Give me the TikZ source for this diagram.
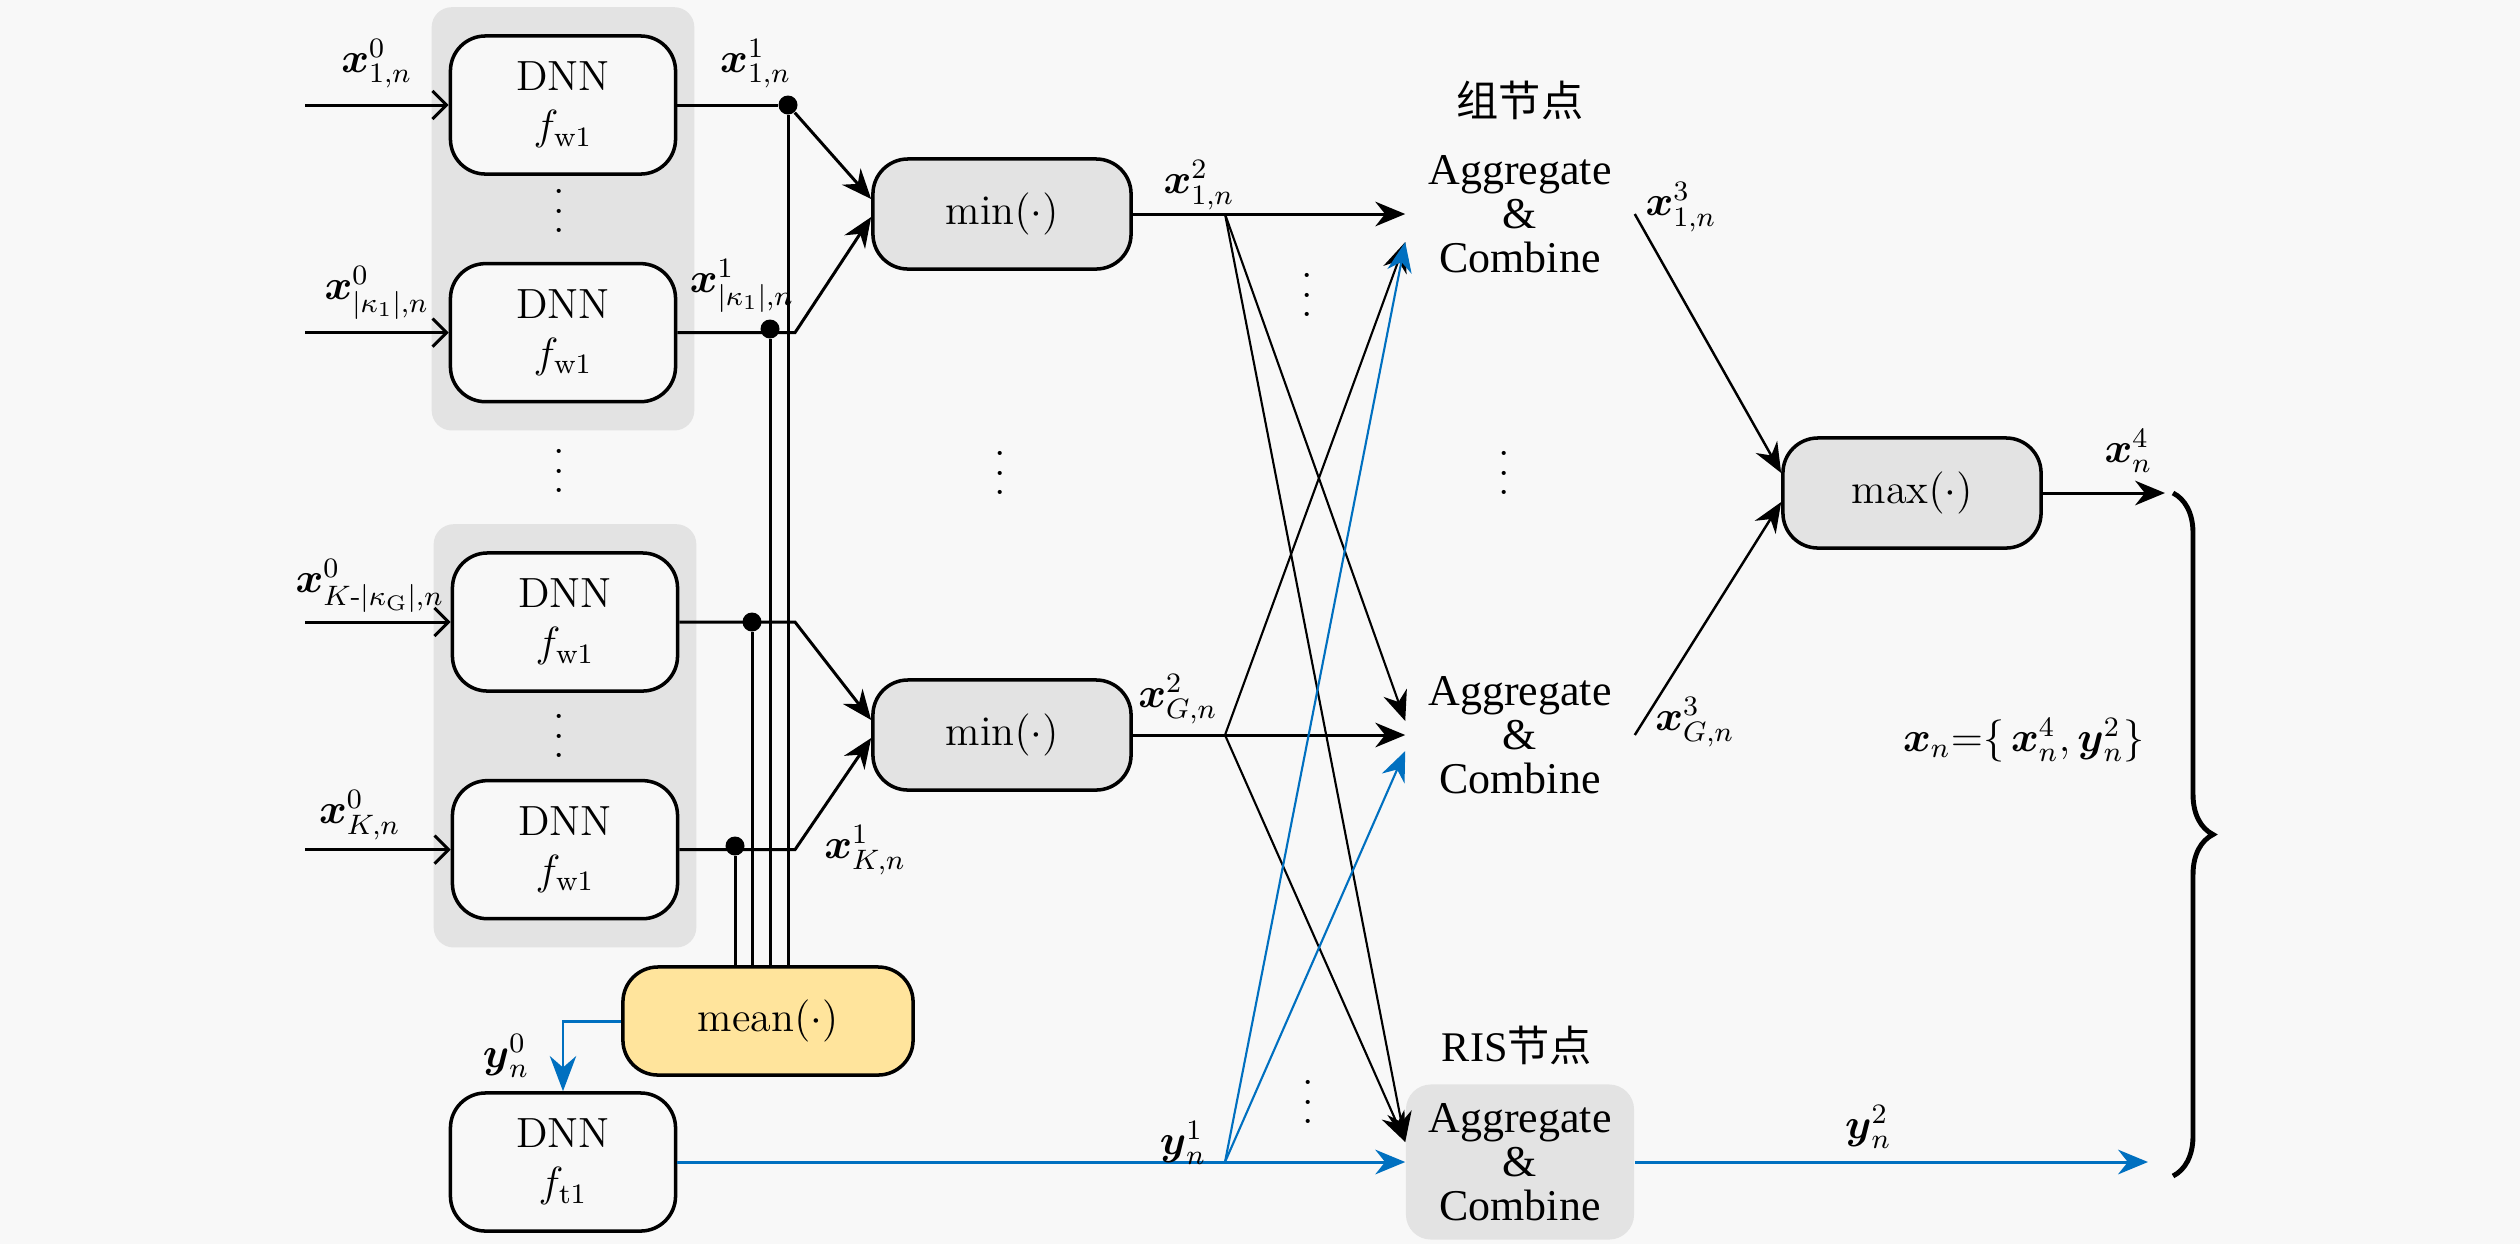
\documentclass[tikz,border=0pt]{standalone}
\usepackage{amsmath,amssymb}
\usepackage{fontspec}
\newfontfamily\cjk{Noto Sans CJK SC}
\newfontfamily\tnr{Liberation Serif}
\usepackage{tikz}
\usetikzlibrary{arrows.meta,positioning,fit,backgrounds,calc,decorations.pathreplacing}
\definecolor{bgGray}{HTML}{F8F8F8}
\definecolor{boxGray}{HTML}{E3E3E3}
\definecolor{meanYellow}{HTML}{FFE49C}
\definecolor{linkBlue}{HTML}{0070C0}
\newcommand{\bx}{\boldsymbol{x}}
\newcommand{\by}{\boldsymbol{y}}
\newcommand{\vdts}{\vbox{\baselineskip5.6pt\lineskiplimit0pt\hbox{.}\hbox{.}\hbox{.}}}

\begin{document}
\begin{tikzpicture}[
    x=0.01cm, y=-0.01cm,
    font=\large,
    dnn/.style={draw, rounded corners=0.35cm, line width=1pt, minimum width=2.25cm, minimum height=1.38cm, align=center, fill=bgGray},
    op/.style={draw, rounded corners=0.35cm, line width=1pt, minimum width=2.58cm, minimum height=1.1cm, fill=boxGray},
    agg/.style={minimum width=2.28cm, minimum height=1.55cm, align=center, inner sep=0pt, font=\tnr\fontsize{12.5}{12.5}\selectfont},
    dot/.style={circle, fill=black, minimum size=0.19cm, inner sep=0pt},
    vd/.style={inner sep=0pt},
    wire/.style={line width=0.85pt},
    inarrow/.style={wire, -{Straight Barb[length=4pt,width=8pt]}},
    arrow/.style={wire, -{Stealth[length=8.5pt,width=7pt]}},
    cross/.style={line width=0.6pt, -{Stealth[length=8.5pt,width=7pt]}},
    bluearrow/.style={arrow, linkBlue},
    bluecross/.style={cross, linkBlue}
]
    \useasboundingbox (0,0) rectangle (2520,1244);

    % columns
    \coordinate (ix) at (305,0);
    \coordinate (kx) at (795,0);
    \coordinate (fx) at (1225,0);

    % DNN blocks
    \node[dnn] (w1) at (563,105) {DNN\\$f_{\mathrm{w1}}$};
    \node[dnn, below=0.86cm of w1] (w2) {DNN\\$f_{\mathrm{w1}}$};
    \node[dnn] (w3) at (565,622) {DNN\\$f_{\mathrm{w1}}$};
    \node[dnn, below=0.86cm of w3] (w4) {DNN\\$f_{\mathrm{w1}}$};
    \node[dnn] (t1) at (563,1162) {DNN\\$f_{\mathrm{t1}}$};

    \node[vd] (v1) at (559,211) {\vdts};
    \node[vd] (v2) at (559,471) {\vdts};
    \node[vd] (v3) at (559,736) {\vdts};

    % pooling
    \node[op] (m1) at (1002,214) {$\min(\cdot)$};
    \node[op] (m2) at (1002,735) {$\min(\cdot)$};
    \node[op, fill=meanYellow, minimum width=2.9cm, minimum height=1.08cm] (mean) at (768,1021) {$\mathrm{mean}(\cdot)$};
    \node[vd] (v4) at (1000,473) {\vdts};

    \node[dot] (p1) at (788,105) {};
    \node[dot] (p2) at (770,329) {};
    \node[dot] (p3) at (752,622) {};
    \node[dot] (p4) at (735,846) {};

    % inputs
    \draw[inarrow] (w1.west -| ix) -- node[above=1pt] (l01) {$\bx^0_{1,n}$} (w1.west);
    \draw[inarrow] (w2.west -| ix) -- node[above=0pt] (l02) {$\bx^0_{|\kappa_1|,n}$} (w2.west);
    \draw[inarrow] (w3.west -| ix) -- node[above=-1pt, xshift=-0.08cm] (l03) {$\bx^0_{K\text{-}|\kappa_{\mathrm{G}}|,n}$} (w3.west);
    \draw[inarrow] (w4.west -| ix) -- node[above=-1pt, xshift=-0.18cm] (l04) {$\bx^0_{K,n}$} (w4.west);

    % to min
    \draw[wire] (w1.east) -- node[pos=0.78, above=1pt] (l11) {$\bx^1_{1,n}$} (p1);
    \draw[arrow] (p1) -- ([yshift=0.15cm]m1.west);
    \draw[arrow] (w2.east) -- node[pos=0.55, above=2pt] (l12) {$\bx^1_{|\kappa_1|,n}$} (w2.east -| kx) -- ([yshift=-0.03cm]m1.west);
    \draw[arrow] (w3.east) -- (w3.east -| kx) -- ([yshift=0.15cm]m2.west);
    \draw[arrow] (w4.east) -- (w4.east -| kx) -- ([yshift=-0.03cm]m2.west);
    \node[anchor=west] (l1K) at (812,850) {$\bx^1_{K,n}$};

    % to mean
    \draw[wire] (p1) -- (p1 |- mean.north);
    \draw[wire] (p2) -- (p2 |- mean.north);
    \draw[wire] (p3) -- (p3 |- mean.north);
    \draw[wire] (p4) -- (p4 |- mean.north);
    \draw[wire, linkBlue, -{Stealth[length=10pt,width=7.5pt]}] (mean.west) -| (t1.north);
    \node (l0y) at (506,1056) {$\by^0_n$};

    % aggregation nodes
    \node (grp) at (1520,100) {\cjk 组节点};
    \node[agg] (a1) at (1520,214) {Aggregate\\\&\\Combine};
    \node[agg] (a2) at (1520,735) {Aggregate\\\&\\Combine};
    \node[vd] (v5) at (1504,473) {\vdts};
    \node (ris) at (1517,1045) {{\tnr RIS}{\cjk 节点}};
    \node[agg, fill=boxGray, rounded corners=0.25cm] (a3) at (1520,1162) {Aggregate\\\&\\Combine};

    \coordinate (f1) at (m1.east -| fx);
    \coordinate (f2) at (m2.east -| fx);
    \coordinate (f3) at (t1.east -| fx);
    \node[vd] (v6) at (1307,295) {\vdts};
    \node[vd] (v7) at (1308,1102) {\vdts};

    \draw[arrow] (m1.east) -- (a1.west);
    \draw[arrow] (m2.east) -- (a2.west);
    \draw[bluearrow] (t1.east) -- (a3.west);
    \node (l21) at (1199,185) {$\bx^2_{1,n}$};
    \node (l2G) at (1178,699) {$\bx^2_{G,n}$};
    \node (l1y) at (1183,1143) {$\by^1_n$};

    \draw[cross] (f1) -- ([yshift=0.14cm]a2.west);
    \draw[cross] (f1) -- ([yshift=0.2cm]a3.west);
    \draw[cross] (f2) -- ([yshift=-0.28cm]a1.west);
    \draw[cross] (f2) -- ([yshift=0.2cm]a3.west);
    \draw[bluecross] (f3) -- ([yshift=-0.28cm]a1.west);
    \draw[bluecross] (f3) -- ([yshift=-0.16cm]a2.west);

    % readout
    \node[op] (mx) at (1912,493) {$\max(\cdot)$};
    \draw[cross, line width=0.7pt] (a1.east) -- ([yshift=0.2cm]mx.west);
    \draw[cross, line width=0.7pt] (a2.east) -- ([yshift=-0.09cm]mx.west);
    \node (l31) at (1681,207) {$\bx^3_{1,n}$};
    \node (l3G) at (1695,722) {$\bx^3_{G,n}$};

    \coordinate (xo) at (2165,493);
    \coordinate (yo) at (2148,1162);
    \draw[arrow] (mx.east) -- node[pos=0.7, above=2pt] (l4) {$\bx^4_n$} (xo);
    \draw[bluearrow] (a3.east) -- node[pos=0.455, above=0pt, text=black] (l2y) {$\by^2_n$} (yo);
    \draw[line width=1.4pt, decorate, decoration={brace, amplitude=0.4cm}] (2173,493) -- (2173,1176);
    \node (xn) at (2024,740) {$\bx_n{=}\{\,\bx^4_n,\by^2_n\}$};

    \begin{scope}[on background layer]
        \fill[bgGray] (0,0) rectangle (2520,1244);
        \node[fit=(w1)(w2), inner xsep=0.17cm, inner ysep=0.27cm, fill=boxGray, rounded corners=0.2cm] (g1) {};
        \node[fit=(w3)(w4), inner xsep=0.17cm, inner ysep=0.27cm, fill=boxGray, rounded corners=0.2cm] (g2) {};
    \end{scope}
\end{tikzpicture}
\end{document}
